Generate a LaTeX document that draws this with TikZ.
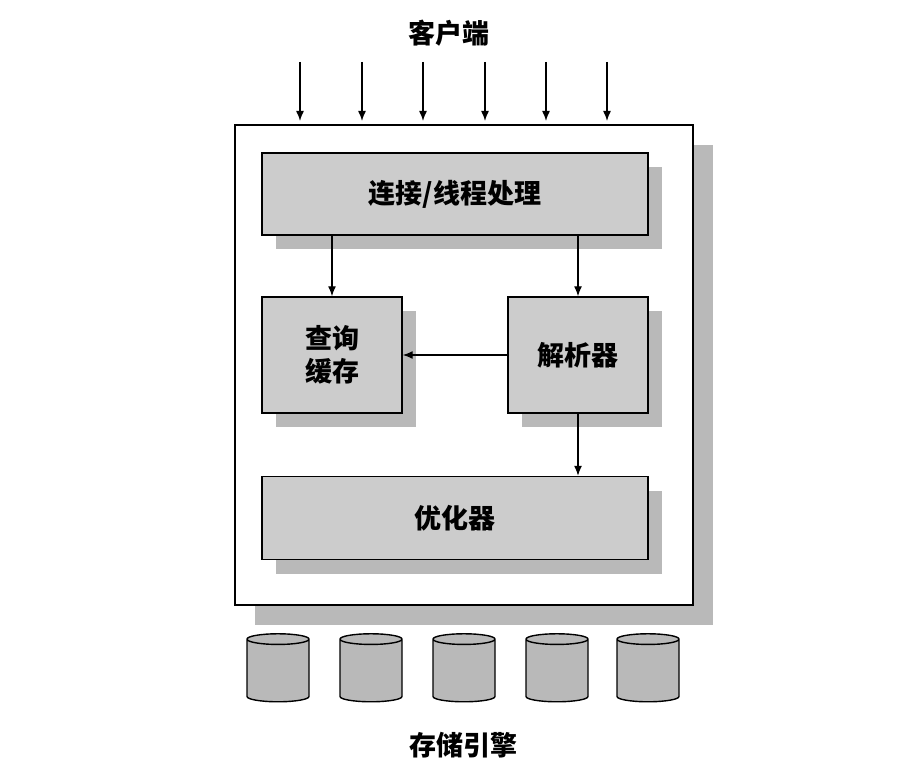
\documentclass[tikz,border=0pt]{standalone}
\usepackage{fontspec}
\setmainfont{Noto Sans CJK SC}
\usetikzlibrary{shapes.geometric}
\tikzset{
  module/.style={draw=black, line width=1.4pt, fill=gray!40, font=\bfseries\fontsize{27}{33}\selectfont, inner sep=0pt, align=center},
  shade box/.style={fill=gray!55},
  engine/.style={cylinder, shape border rotate=90, draw=black, line width=1.4pt, fill=gray!55, minimum width=62pt, minimum height=68pt, aspect=1.6},
  label/.style={font=\bfseries\fontsize{27}{33}\selectfont},
  flow/.style={-{Latex[length=10pt,width=8pt]}, line width=1.4pt}
}
\usetikzlibrary{arrows.meta}
\begin{document}
\begin{tikzpicture}[x=1pt,y=-1pt]
  \useasboundingbox (0,0) rectangle (908,778);
  % Server frame with its shadow
  \fill [shade box] (255,145) rectangle (713,625);
  \draw [line width=1.6pt, fill=white] (235,125) rectangle (693,605);
  % Shadows of the modules
  \fill [shade box] (276,167) rectangle (662,249);
  \fill [shade box] (276,311) rectangle (416,427);
  \fill [shade box] (522,311) rectangle (662,427);
  \fill [shade box] (276,491) rectangle (662,574);
  % Modules
  \node [module, minimum width=386pt, minimum height=82pt] (conn) at (455,194) {连接/线程处理};
  \node [module, minimum width=140pt, minimum height=116pt] (cache) at (332,355) {查询\\缓存};
  \node [module, minimum width=140pt, minimum height=116pt] (parser) at (578,355) {解析器};
  \node [module, minimum width=386pt, minimum height=83pt] (opt) at (455,518) {优化器};
  % Clients
  \node [label] (client) at (449,33) {客户端};
  \foreach \x in {300,362,423,485,546,607}
    \draw [flow] (\x,62) -- (\x,121);
  % Internal flow
  \draw [flow] (conn.south -| cache) -- (cache.north);
  \draw [flow] (conn.south -| parser) -- (parser.north);
  \draw [flow] (parser.west) -- (cache.east);
  \draw [flow] (parser.south) -- (parser.south |- opt.north);
  % Storage engines
  \foreach \x [count=\i] in {278,371,464,557,648}
    \node [engine] (eng\i) at (\x,672) {};
  \node [label] (storage) at (463,745) {存储引擎};
\end{tikzpicture}
\end{document}
